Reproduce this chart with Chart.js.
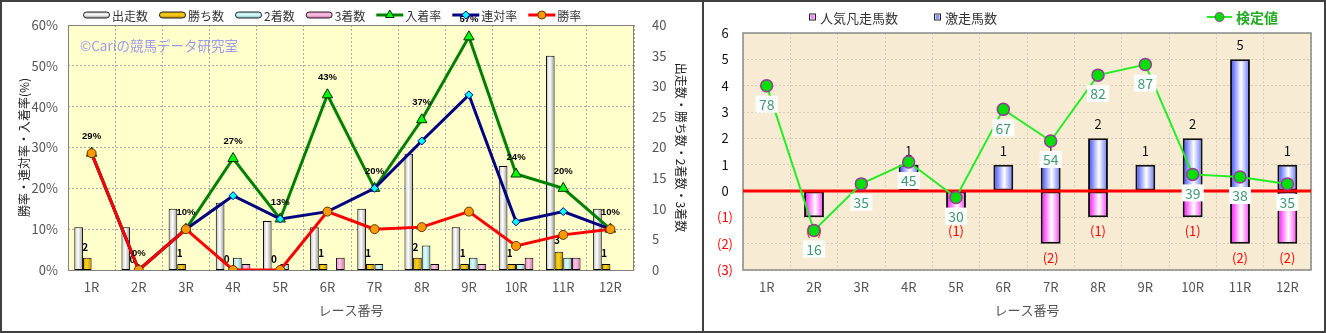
<!DOCTYPE html>
<html>
<head>
<meta charset="utf-8">
<script src="https://cdn.jsdelivr.net/npm/chart.js@4.4.0/dist/chart.umd.min.js"></script>
<style>
  body { margin: 0; background: #fff; }
  #wrap { position: relative; width: 1326px; height: 333px; }
  #left { position: absolute; left: 0; top: 0; width: 704px; height: 333px; border: 2px solid #404040; box-sizing: border-box; }
  #right { position: absolute; left: 704px; top: 0; width: 622px; height: 333px; border: 2px solid #404040; border-left: none; box-sizing: border-box; }
  canvas { display: block; }
</style>
</head>
<body>
<div id="wrap">
  <div id="left"><canvas id="leftChart" width="700" height="329"></canvas></div>
  <div id="right"><canvas id="rightChart" width="620" height="329"></canvas></div>
</div>
<script>
// レース番号
const races = ['1R', '2R', '3R', '4R', '5R', '6R', '7R', '8R', '9R', '10R', '11R', '12R'];

// 左: 頭数 (右軸)
const starters = [7, 7, 10, 11, 8, 7, 10, 19, 7, 17, 35, 10];
const wins     = [2, 0, 1, 0, 0, 1, 1, 2, 1, 1, 3, 1];
const seconds  = [0, 0, 0, 2, 1, 0, 1, 4, 2, 1, 2, 0];
const thirds   = [0, 0, 0, 1, 0, 2, 0, 1, 1, 2, 2, 0];

// 左: 率 % (左軸)
const winRate    = [28.6, 0, 10, 0, 0, 14.3, 10, 10.5, 14.3, 5.9, 8.6, 10];
const rentaiRate = [28.6, 0, 10, 18.2, 12.5, 14.3, 20, 31.6, 42.9, 11.8, 14.3, 10];
const placeRate  = [28.6, 0, 10, 27.3, 12.5, 42.9, 20, 36.8, 57.1, 23.5, 20, 10];

// 右: 激走 / 人気凡走 / 検定値
const gekisou     = [0, 0, 0, 1, 0, 1, 1, 2, 1, 2, 5, 1];
const bonsou      = [0, -1, 0, 0, -1, 0, -2, -1, 0, -1, -2, -2];
const kenteiPos   = [4.0, -1.5, 0.27, 1.1, -0.25, 3.1, 1.9, 4.4, 4.8, 0.63, 0.53, 0.27];
const kenteiLabel = [78, 16, 35, 45, 30, 67, 54, 82, 87, 39, 38, 35];

const FONT = "'Noto Sans CJK JP', 'Noto Sans', sans-serif";

const silver  = [[0, '#BDBDBD'], [0.45, '#FFFFFF'], [1, '#989898']];
const gold    = [[0, '#D9A400'], [0.45, '#FFD21A'], [1, '#B88A00']];
const aqua    = [[0, '#9ED6DE'], [0.45, '#DDFFFF'], [1, '#7DBCC6']];
const pink    = [[0, '#E98CC6'], [0.45, '#FFC4E6'], [1, '#CF6FAE']];
const blue    = [[0, '#2F40FF'], [0.55, '#FFFFFF'], [1, '#5A6CFF']];
const magenta = [[0, '#FF00FF'], [0.55, '#FFFFFF'], [1, '#FF33FF']];

// bar gradient (horizontal, cylinder look) built from the x scale
function barGrad(stops, slot, slots, catPct) {
  return function (c) {
    const chart = c.chart;
    const xs = chart.scales.x;
    if (!chart.chartArea || !xs || c.dataIndex === undefined) return stops[1][1];
    const bw = xs.width / races.length * catPct / slots;
    const cx = xs.getPixelForValue(c.dataIndex) + (slot - (slots - 1) / 2) * bw;
    const g = chart.ctx.createLinearGradient(cx - bw / 2, 0, cx + bw / 2, 0);
    stops.forEach(s => g.addColorStop(s[0], s[1]));
    return g;
  };
}

function marker(ctx, style, x, y, r, fill, stroke) {
  ctx.fillStyle = fill;
  ctx.strokeStyle = stroke;
  ctx.lineWidth = 1;
  Chart.helpers.drawPoint(ctx, { pointStyle: style, radius: r, rotation: 0, borderWidth: 1 }, x, y);
}

// ---------------- left chart ----------------
const CAT_L = 0.733;
const barBase = { type: 'bar', yAxisID: 'yCount', borderColor: '#000', borderWidth: 1, borderSkipped: false,
                  categoryPercentage: CAT_L, barPercentage: 1, order: 10 };

const leftLegend = [
  { text: '出走数', bar: silver }, { text: '勝ち数', bar: gold }, { text: '2着数', bar: aqua }, { text: '3着数', bar: pink },
  { text: '入着率', line: '#008000', style: 'triangle', fill: '#00FF00', stroke: '#003300', r: 5 },
  { text: '連対率', line: '#000080', style: 'rectRot', fill: '#00FFFF', stroke: '#000080', r: 4 },
  { text: '勝率', line: '#FF0000', style: 'circle', fill: '#FF9900', stroke: '#663300', r: 4 }
];

const leftDecor = {
  id: 'leftDecor',
  beforeDraw(chart) {
    const { ctx, chartArea: a } = chart;
    ctx.save();
    ctx.fillStyle = '#FFFFCC';
    ctx.fillRect(a.left, a.top, a.width, a.height);
    ctx.restore();
  },
  beforeDatasetsDraw(chart) {
    const { ctx, chartArea: a } = chart;
    ctx.save();
    ctx.strokeStyle = '#808080';
    ctx.lineWidth = 1;
    ctx.strokeRect(a.left + 0.5, a.top + 0.5, a.width - 1, a.height);
    ctx.font = '13.5px ' + FONT;
    ctx.fillStyle = '#9C9CEC';
    ctx.textBaseline = 'middle';
    ctx.fillText('©Cariの競馬データ研究室', 78, 44);
    ctx.restore();
  },
  beforeDatasetDraw(chart, args) {
    if (args.index !== 4) return;
    // 勝ち数 labels, under the lines
    const { ctx } = chart;
    ctx.save();
    ctx.font = 'bold 10px ' + FONT;
    ctx.fillStyle = '#000';
    ctx.textAlign = 'center';
    ctx.textBaseline = 'middle';
    chart.getDatasetMeta(1).data.forEach((b, i) => {
      ctx.fillText(String(wins[i]), b.x - 2, b.y - 11);
    });
    ctx.restore();
  },
  afterDatasetsDraw(chart) {
    const { ctx } = chart;
    ctx.save();
    ctx.font = 'bold 9.5px "Liberation Sans", Arial, sans-serif';
    ctx.fillStyle = '#000';
    ctx.textAlign = 'center';
    ctx.textBaseline = 'middle';
    chart.getDatasetMeta(4).data.forEach((p, i) => {
      ctx.fillText(Math.round(placeRate[i]) + '%', p.x, p.y - 17);
    });
    ctx.restore();
  },
  afterDraw(chart) {
    const { ctx } = chart;
    ctx.save();
    ctx.font = '12px ' + FONT;
    ctx.textBaseline = 'middle';
    let x = 81;
    const y = 13;
    leftLegend.forEach(it => {
      if (it.bar) {
        const g = ctx.createLinearGradient(0, y - 3, 0, y + 3);
        it.bar.forEach(s => g.addColorStop(s[0], s[1]));
        ctx.fillStyle = g;
        ctx.strokeStyle = '#222';
        ctx.lineWidth = 1;
        ctx.beginPath();
        ctx.roundRect(x + 0.5, y - 3, 26, 6, 3);
        ctx.fill();
        ctx.stroke();
      } else {
        ctx.strokeStyle = it.line;
        ctx.lineWidth = 3;
        ctx.beginPath();
        ctx.moveTo(x, y);
        ctx.lineTo(x + 27, y);
        ctx.stroke();
        marker(ctx, it.style, x + 13.5, y, it.r, it.fill, it.stroke);
      }
      ctx.fillStyle = '#333';
      ctx.fillText(it.text, x + 29, y + 1);
      x += 29 + ctx.measureText(it.text).width + 11;
    });
    ctx.restore();
  }
};

new Chart(document.getElementById('leftChart'), {
  type: 'bar',
  data: {
    labels: races,
    datasets: [
      { ...barBase, label: '出走数', data: starters, backgroundColor: barGrad(silver, 0, 4, CAT_L) },
      { ...barBase, label: '勝ち数', data: wins, backgroundColor: barGrad(gold, 1, 4, CAT_L) },
      { ...barBase, label: '2着数', data: seconds, backgroundColor: barGrad(aqua, 2, 4, CAT_L) },
      { ...barBase, label: '3着数', data: thirds, backgroundColor: barGrad(pink, 3, 4, CAT_L) },
      { type: 'line', label: '入着率', data: placeRate, yAxisID: 'yRate', order: 3,
        borderColor: '#008000', borderWidth: 3, pointStyle: 'triangle', pointRadius: 6,
        pointBackgroundColor: '#00FF00', pointBorderColor: '#003300', pointBorderWidth: 1 },
      { type: 'line', label: '連対率', data: rentaiRate, yAxisID: 'yRate', order: 2,
        borderColor: '#000080', borderWidth: 3, pointStyle: 'rectRot', pointRadius: 4,
        pointBackgroundColor: '#00FFFF', pointBorderColor: '#000080', pointBorderWidth: 1 },
      { type: 'line', label: '勝率', data: winRate, yAxisID: 'yRate', order: 1,
        borderColor: '#FF0000', borderWidth: 3, pointStyle: 'circle', pointRadius: 4.5,
        pointBackgroundColor: '#FF9900', pointBorderColor: '#663300', pointBorderWidth: 1 }
    ]
  },
  options: {
    responsive: false,
    animation: false,
    events: [],
    layout: { padding: { top: 23 } },
    plugins: { legend: { display: false }, tooltip: { enabled: false } },
    scales: {
      x: {
        grid: { color: '#A8A8A8', drawTicks: false },
        border: { display: false, dash: [2, 2] },
        ticks: { color: '#555', font: { family: FONT, size: 13 }, padding: 9 },
        title: { display: true, text: 'レース番号', color: '#555', font: { family: FONT, size: 13 }, padding: { top: 0, bottom: 13 } },
        afterFit(s) { s.height = 61; }
      },
      yRate: {
        position: 'left', min: 0, max: 60,
        grid: { color: '#A8A8A8', drawTicks: false },
        border: { display: false, dash: [2, 2] },
        ticks: { stepSize: 10, callback: v => v + '%', color: '#555', font: { family: FONT, size: 13 }, padding: 10 },
        title: { display: true, text: '勝率・連対率・入着率(%)', color: '#222', font: { family: FONT, size: 12 }, padding: { top: 15, bottom: 0 } },
        afterFit(s) { s.width = 66; }
      },
      yCount: {
        position: 'right', min: 0, max: 40,
        grid: { display: false },
        border: { display: false },
        ticks: { stepSize: 5, color: '#555', font: { family: FONT, size: 13 }, padding: 10 },
        title: { display: true, text: '出走数・勝ち数・2着数・3着数', color: '#222', font: { family: FONT, size: 12 }, padding: { top: 14, bottom: 0 } },
        afterFit(s) { s.width = 68; }
      }
    }
  },
  plugins: [leftDecor]
});

// ---------------- right chart ----------------
const CAT_R = 0.42;

const rightDecor = {
  id: 'rightDecor',
  beforeDraw(chart) {
    const { ctx, chartArea: a } = chart;
    ctx.save();
    ctx.fillStyle = '#F7EBD3';
    ctx.fillRect(a.left, a.top, a.width, a.height);
    ctx.restore();
  },
  beforeDatasetsDraw(chart) {
    const { ctx, chartArea: a } = chart;
    ctx.save();
    ctx.strokeStyle = '#8A8A8A';
    ctx.lineWidth = 1.5;
    ctx.strokeRect(a.left, a.top, a.width, a.height);
    ctx.restore();
  },
  beforeDatasetDraw(chart, args) {
    if (args.index !== 2) return;
    const { ctx, chartArea: a } = chart;
    ctx.save();
    ctx.font = '13px ' + FONT;
    ctx.textAlign = 'center';
    ctx.textBaseline = 'middle';
    ctx.fillStyle = '#111';
    chart.getDatasetMeta(0).data.forEach((b, i) => {
      if (gekisou[i] > 0) ctx.fillText(String(gekisou[i]), b.x, b.y - 14);
    });
    ctx.fillStyle = '#FF0000';
    chart.getDatasetMeta(1).data.forEach((b, i) => {
      if (bonsou[i] < 0) ctx.fillText('(' + (-bonsou[i]) + ')', b.x, b.y + 14);
    });
    // zero line
    const y0 = chart.scales.y.getPixelForValue(0);
    ctx.strokeStyle = '#FF0000';
    ctx.lineWidth = 3;
    ctx.beginPath();
    ctx.moveTo(a.left, y0);
    ctx.lineTo(a.right, y0);
    ctx.stroke();
    ctx.restore();
  },
  afterDatasetsDraw(chart) {
    const { ctx } = chart;
    ctx.save();
    ctx.font = '14px ' + FONT;
    ctx.textAlign = 'center';
    ctx.textBaseline = 'middle';
    chart.getDatasetMeta(2).data.forEach((p, i) => {
      ctx.fillStyle = '#FFFFFF';
      ctx.fillRect(p.x - 11, p.y + 10, 22, 17);
      ctx.fillStyle = '#3C9A6E';
      ctx.fillText(String(kenteiLabel[i]), p.x, p.y + 19);
    });
    ctx.restore();
  },
  afterDraw(chart) {
    const { ctx } = chart;
    ctx.save();
    ctx.font = '13px ' + FONT;
    ctx.textBaseline = 'middle';
    const y = 15;
    const sq = [{ x: 105, text: '人気凡走馬数', c: '#FF88FF' }, { x: 230, text: '激走馬数', c: '#8898FF' }];
    sq.forEach(it => {
      ctx.fillStyle = '#FFFFFF';
      ctx.fillRect(it.x, y - 3.5, 7, 7);
      ctx.strokeStyle = '#222';
      ctx.lineWidth = 1;
      ctx.strokeRect(it.x + 0.5, y - 3, 6, 6);
      ctx.fillStyle = it.c;
      ctx.fillRect(it.x + 1.5, y - 2, 4, 4);
      ctx.fillStyle = '#333';
      ctx.fillText(it.text, it.x + 11, y + 1);
    });
    ctx.strokeStyle = '#22EE22';
    ctx.lineWidth = 2;
    ctx.beginPath();
    ctx.moveTo(503, y);
    ctx.lineTo(528, y);
    ctx.stroke();
    marker(ctx, 'circle', 515.5, y, 4.5, '#00E000', '#9A3A9A');
    ctx.font = 'bold 14px ' + FONT;
    ctx.fillStyle = '#22AA22';
    ctx.fillText('検定値', 532, y + 1);
    ctx.restore();
  }
};

new Chart(document.getElementById('rightChart'), {
  type: 'bar',
  data: {
    labels: races,
    datasets: [
      { type: 'bar', label: '激走馬数', data: gekisou, order: 5, backgroundColor: barGrad(blue, 0, 1, CAT_R),
        borderColor: '#111', borderWidth: 2, borderSkipped: false, categoryPercentage: CAT_R, barPercentage: 1 },
      { type: 'bar', label: '人気凡走馬数', data: bonsou, order: 5, backgroundColor: barGrad(magenta, 0, 1, CAT_R),
        borderColor: '#111', borderWidth: 2, borderSkipped: false, categoryPercentage: CAT_R, barPercentage: 1 },
      { type: 'line', label: '検定値', data: kenteiPos, order: 1,
        borderColor: '#22EE22', borderWidth: 2, pointStyle: 'circle', pointRadius: 6,
        pointBackgroundColor: '#00E000', pointBorderColor: '#9A3A9A', pointBorderWidth: 1.5 }
    ]
  },
  options: {
    responsive: false,
    animation: false,
    events: [],
    layout: { padding: { top: 31, right: 13 } },
    plugins: { legend: { display: false }, tooltip: { enabled: false } },
    scales: {
      x: {
        stacked: true,
        grid: { color: '#D6CCB8', drawTicks: false },
        border: { display: false, dash: [2, 2] },
        ticks: { color: '#555', font: { family: FONT, size: 13 }, padding: 9 },
        title: { display: true, text: 'レース番号', color: '#555', font: { family: FONT, size: 13 }, padding: { top: 0, bottom: 13 } },
        afterFit(s) { s.height = 61; }
      },
      y: {
        stacked: true, min: -3, max: 6,
        grid: { color: '#D6CCB8', drawTicks: false },
        border: { display: false, dash: [2, 2] },
        ticks: {
          stepSize: 1, crossAlign: 'center', padding: 10,
          font: { family: FONT, size: 13 },
          color: c => (c.tick && c.tick.value < 0) ? '#FF0000' : '#111',
          callback: v => v < 0 ? '(' + (-v) + ')' : String(v)
        },
        afterFit(s) { s.width = 39; }
      }
    }
  },
  plugins: [rightDecor]
});
</script>
</body>
</html>
